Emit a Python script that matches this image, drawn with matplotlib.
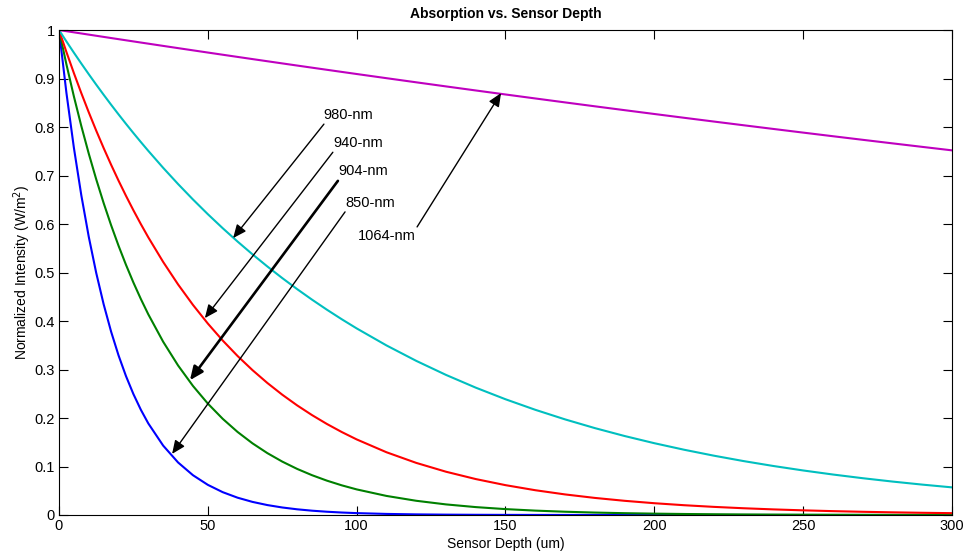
import matplotlib
matplotlib.use("Agg")
import matplotlib.pyplot as plt

plt.rcParams['font.family'] = ['Liberation Sans', 'DejaVu Sans']

# Sensor depth sample positions (um)
depth_um = [0, 2.5, 5, 7.5, 10, 12.5, 15, 17.5, 20, 22.5, 25, 27.5, 30,
            35, 40, 45, 50, 55, 60, 65, 70, 75, 80, 85, 90, 95, 100,
            110, 120, 130, 140, 150, 160, 170, 180, 190, 200,
            210, 220, 230, 240, 250, 260, 270, 280, 290, 300]

# Normalized intensity at each depth, one list per wavelength
intensity_850 = [1.0, 0.87032, 0.75746, 0.65924, 0.57375, 0.49935, 0.43460,
                 0.37824, 0.32919, 0.28650, 0.24935, 0.21701, 0.18888,
                 0.14306, 0.10836, 0.08208, 0.06218, 0.04709, 0.03567, 0.02702,
                 0.02047, 0.01550, 0.01174, 0.00889, 0.00674, 0.00510, 0.00387,
                 0.00222, 0.00127, 0.00073, 0.00042, 0.00024, 0.00014, 0.00008,
                 0.00005, 0.00003, 0.00001,
                 0.0, 0.0, 0.0, 0.0, 0.0, 0.0, 0.0, 0.0, 0.0, 0.0]
intensity_904 = [1.0, 0.92911, 0.86324, 0.80205, 0.74520, 0.69237, 0.64329,
                 0.59769, 0.55531, 0.51595, 0.47937, 0.44539, 0.41382,
                 0.35722, 0.30836, 0.26618, 0.22977, 0.19834, 0.17121, 0.14779,
                 0.12758, 0.11013, 0.09506, 0.08208, 0.07085, 0.06116, 0.05279,
                 0.03934, 0.02933, 0.02185, 0.01629, 0.01214, 0.00904, 0.00674,
                 0.00502, 0.00374, 0.00279,
                 0.00208, 0.00155, 0.00115, 0.00086, 0.00064, 0.00048, 0.00036,
                 0.00026, 0.00020, 0.00015]
intensity_940 = [1.0, 0.95459, 0.91125, 0.86988, 0.83038, 0.79267, 0.75668,
                 0.72232, 0.68952, 0.65822, 0.62833, 0.59981, 0.57257,
                 0.52176, 0.47545, 0.43325, 0.39480, 0.35976, 0.32784, 0.29874,
                 0.27223, 0.24807, 0.22605, 0.20600, 0.18771, 0.17105, 0.15587,
                 0.12943, 0.10748, 0.08925, 0.07411, 0.06154, 0.05110, 0.04243,
                 0.03523, 0.02926, 0.02430,
                 0.02017, 0.01675, 0.01391, 0.01155, 0.00959, 0.00796, 0.00661,
                 0.00549, 0.00456, 0.00379]
intensity_980 = [1.0, 0.97640, 0.95337, 0.93087, 0.90891, 0.88746, 0.86653,
                 0.84607, 0.82612, 0.80662, 0.78759, 0.76901, 0.75086,
                 0.71584, 0.68246, 0.65064, 0.62029, 0.59137, 0.56380, 0.53750,
                 0.51244, 0.48854, 0.46576, 0.44404, 0.42333, 0.40359, 0.38477,
                 0.34972, 0.31787, 0.28890, 0.26260, 0.23867, 0.21694, 0.19717,
                 0.17921, 0.16288, 0.14805,
                 0.13457, 0.12231, 0.11116, 0.10104, 0.09183, 0.08347, 0.07587,
                 0.06895, 0.06267, 0.05696]
intensity_1064 = [1.0, 0.99763, 0.99526, 0.99290, 0.99054, 0.98819, 0.98584,
                  0.98350, 0.98117, 0.97884, 0.97652, 0.97420, 0.97189,
                  0.96727, 0.96269, 0.95812, 0.95358, 0.94906, 0.94456, 0.94008,
                  0.93563, 0.93119, 0.92677, 0.92238, 0.91801, 0.91365, 0.90932,
                  0.90072, 0.89220, 0.88375, 0.87539, 0.86711, 0.85891, 0.85078,
                  0.84273, 0.83476, 0.82687,
                  0.81904, 0.81129, 0.80362, 0.79602, 0.78848, 0.78102, 0.77363,
                  0.76632, 0.75907, 0.75188]

# Callout labels: text, text position, arrow tail, arrow tip (data units)
labels = ['980-nm', '940-nm', '904-nm', '850-nm', '1064-nm']
label_xy = [(97.1, 0.825), (100.4, 0.767), (102.1, 0.709), (104.5, 0.643), (110.2, 0.575)]
arrow_tail = [(89.0, 0.806), (92.0, 0.748), (93.7, 0.689), (96.1, 0.625), (120.3, 0.594)]
arrow_tip = [(58.5, 0.571), (49.0, 0.406), (44.0, 0.278), (38.0, 0.126), (148.5, 0.870)]
arrow_lw = [1.0, 1.0, 1.9, 1.0, 1.0]

fig = plt.figure(figsize=(9.67, 5.54), dpi=100)
ax = fig.add_axes([0.0610, 0.0704, 0.9235, 0.8754])

series = [
    (intensity_850, (0, 0, 1)),
    (intensity_904, (0, 0.5, 0)),
    (intensity_940, (1, 0, 0)),
    (intensity_980, (0, 0.75, 0.75)),
    (intensity_1064, (0.75, 0, 0.75)),
]
for vals, col in series:
    ax.plot(depth_um, vals, color=col, lw=1.5, solid_joinstyle='round')

for txt, pos, tail, tip, lw in zip(labels, label_xy, arrow_tail, arrow_tip, arrow_lw):
    ax.text(pos[0], pos[1], txt, ha='center', va='center', fontsize=10.5)
    ax.annotate('', xy=tip, xytext=tail,
                arrowprops=dict(arrowstyle='-|>,head_length=0.8,head_width=0.35',
                                mutation_scale=10, color='black', lw=lw,
                                shrinkA=0, shrinkB=0))

ax.set_xlim(0, 300)
ax.set_ylim(0, 1)
ax.set_xticks([0, 50, 100, 150, 200, 250, 300])
ax.set_yticks([0, 0.1, 0.2, 0.3, 0.4, 0.5, 0.6, 0.7, 0.8, 0.9, 1])
ax.set_yticklabels(['0', '0.1', '0.2', '0.3', '0.4', '0.5', '0.6', '0.7', '0.8', '0.9', '1'])
ax.tick_params(direction='in', top=True, right=True, length=6.5, width=0.8,
               labelsize=10.5, pad=3)
for sp in ax.spines.values():
    sp.set_linewidth(0.8)

ax.set_title('Absorption vs. Sensor Depth', fontsize=10, fontweight='bold', pad=9)
ax.set_xlabel('Sensor Depth (um)', fontsize=10, labelpad=3)
ax.set_ylabel('Normalized Intensity (W/m$^2$)', fontsize=10, labelpad=1)

fig.savefig('out.png', dpi=100)
